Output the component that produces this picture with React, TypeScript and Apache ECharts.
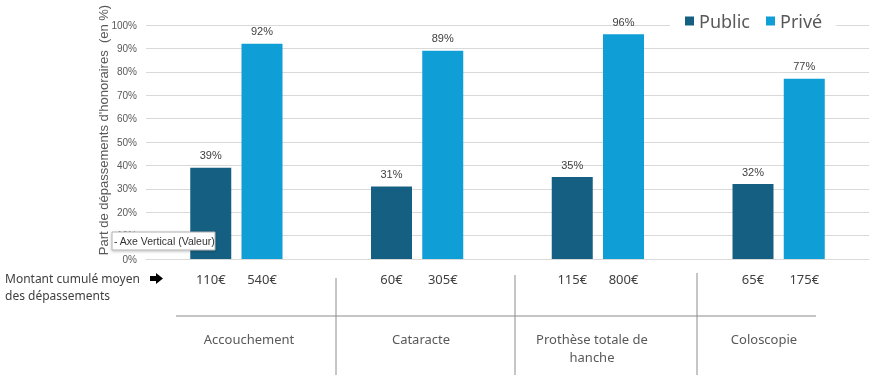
import React, { useEffect, useRef } from "react";
import * as echarts from "echarts";

const categories = ["Accouchement", "Cataracte", "Prothèse totale de\nhanche", "Coloscopie"];
const seriesNames = ["Public", "Privé"];
const publicPct = [39, 31, 35, 32];
const privePct = [92, 89, 96, 77];
const publicAmt = [110, 60, 115, 65];
const priveAmt = [540, 305, 800, 175];
const yTicks = { min: 0, max: 100, interval: 10 };
const yTitle = "Part de dépassements d'honoraires  (en %)";
const rowTitle = "Montant cumulé moyen\ndes dépassements";

// layout (pixels)
const catLabelX = [249, 421, 592, 764];
const FONT = "'Liberation Sans', Arial, sans-serif";
const FONT2 = "'Noto Sans', 'Liberation Sans', sans-serif";

export default function App() {
  const ref = useRef<HTMLDivElement>(null);
  useEffect(() => {
    const chart = echarts.init(ref.current!, null, { renderer: "svg" });
    const barW = 41;
    const gap = 0.25;
    const off = (barW * (1 + gap)) / 2;
    const graphics: any[] = [
      {
        type: "text",
        x: 103,
        y: 130,
        rotation: Math.PI / 2,
        style: { text: yTitle, align: "center", verticalAlign: "middle", fontSize: 13, fill: "#595959", fontFamily: FONT },
      },
      {
        type: "text",
        x: 5,
        y: 287,
        style: { text: rowTitle, align: "left", verticalAlign: "middle", fontSize: 12, lineHeight: 17, fill: "#404040", fontFamily: FONT2 },
      },
      {
        type: "polygon",
        shape: { points: [[150, 276], [156, 276], [156, 273], [163, 278.5], [156, 284], [156, 281], [150, 281]] },
        style: { fill: "#000" },
      },
      { type: "line", shape: { x1: 176, y1: 316, x2: 816, y2: 316 }, style: { stroke: "#8c8c8c", lineWidth: 1 } },
      { type: "line", shape: { x1: 336, y1: 278, x2: 336, y2: 375 }, style: { stroke: "#8c8c8c", lineWidth: 1 } },
      { type: "line", shape: { x1: 515, y1: 275, x2: 515, y2: 375 }, style: { stroke: "#8c8c8c", lineWidth: 1 } },
      { type: "line", shape: { x1: 697, y1: 273, x2: 697, y2: 375 }, style: { stroke: "#8c8c8c", lineWidth: 1 } },
      ...categories.map((c, i) => ({
        type: "text",
        x: catLabelX[i],
        y: 330,
        style: { text: c, align: "center", verticalAlign: "top", fontSize: 13, lineHeight: 18, fill: "#595959", fontFamily: FONT2 },
      })),
      {
        type: "rect",
        z: 100,
        shape: { x: 112, y: 232, width: 103, height: 18 },
        style: { fill: "#fff", stroke: "#b0b0b0", lineWidth: 1, shadowBlur: 3, shadowColor: "rgba(0,0,0,0.25)", shadowOffsetY: 1 },
      },
      {
        type: "text",
        z: 101,
        x: 114,
        y: 241,
        style: { text: "- Axe Vertical (Valeur)", align: "left", verticalAlign: "middle", fontSize: 10.5, fill: "#333", fontFamily: FONT },
      },
    ];
    chart.setOption({
      animation: false,
      grid: { left: 146, right: 15, top: 25, bottom: 124 },
      legend: {
        data: seriesNames,
        left: 670,
        top: 7,
        padding: [5, 14, 5, 15],
        backgroundColor: "#fff",
        itemWidth: 9,
        itemHeight: 9,
        itemGap: 16,
        icon: "rect",
        textStyle: { fontSize: 18, color: "#595959", fontFamily: FONT2 },
        z: 10,
      },
      xAxis: {
        type: "category",
        data: categories,
        axisLine: { lineStyle: { color: "#d9d9d9" } },
        axisTick: { show: false },
        axisLabel: { show: false },
      },
      yAxis: {
        type: "value",
        min: yTicks.min,
        max: yTicks.max,
        interval: yTicks.interval,
        axisLabel: { formatter: "{value}%", fontSize: 10, color: "#595959", margin: 9, fontFamily: FONT },
        axisLine: { show: false },
        splitLine: { lineStyle: { color: "#d9d9d9" } },
      },
      series: [
        {
          name: seriesNames[0],
          type: "bar",
          data: publicPct,
          barWidth: barW,
          barGap: "25%",
          itemStyle: { color: "#156082" },
          label: { show: true, position: "top", distance: 7, formatter: "{c}%", fontSize: 11, color: "#404040", fontFamily: FONT },
        },
        {
          name: seriesNames[1],
          type: "bar",
          data: privePct,
          barWidth: barW,
          barGap: "25%",
          itemStyle: { color: "#0f9ed5" },
          label: { show: true, position: "top", distance: 7, formatter: "{c}%", fontSize: 11, color: "#404040", fontFamily: FONT },
        },
        {
          type: "custom",
          silent: true,
          encode: { x: 0, y: 1 },
          data: categories.map((_, i) => [i, publicAmt[i], priveAmt[i]]),
          renderItem: (params: any, api: any) => {
            const i = api.value(0);
            const c = api.coord([i, 0]);
            const mk = (x: number, t: string) => ({
              type: "text",
              x,
              y: c[1] + 20,
              style: { text: t, align: "center", verticalAlign: "middle", fontSize: 13, fill: "#404040", fontFamily: FONT2 },
            });
            return {
              type: "group",
              children: [mk(c[0] - off, api.value(1) + "€"), mk(c[0] + off, api.value(2) + "€")],
            };
          },
          z: 5,
        },
      ],
      graphic: graphics,
    });
    return () => chart.dispose();
  }, []);
  return <div ref={ref} style={{ position: "fixed", left: 0, top: 0, width: 884, height: 383 }} />;
}
